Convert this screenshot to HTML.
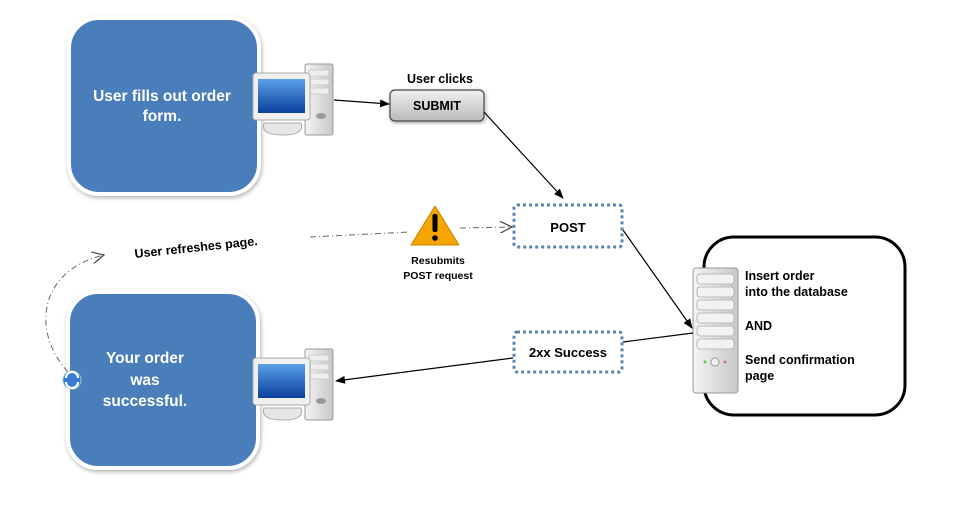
<!DOCTYPE html>
<html><head><style>
body{margin:0;width:980px;height:505px;background:#fff;overflow:hidden;font-family:"Liberation Sans",sans-serif}
</style></head><body>
<svg width="980" height="505" xmlns="http://www.w3.org/2000/svg" font-family="Liberation Sans, sans-serif" font-weight="bold">
<defs>
<marker id="a" markerWidth="10" markerHeight="8" refX="9" refY="4" orient="auto" markerUnits="userSpaceOnUse"><path d="M0,0 L10,4 L0,8 z" fill="#000"/></marker>
<marker id="o" markerWidth="14" markerHeight="12" refX="12" refY="6" orient="auto" markerUnits="userSpaceOnUse"><path d="M0,0 L12,6 L0,12" fill="none" stroke="#444" stroke-width="1.2"/></marker>
<linearGradient id="scr" x1="0" y1="0" x2="0" y2="1"><stop offset="0" stop-color="#5aa0e8"/><stop offset="1" stop-color="#0a3f9c"/></linearGradient>
<linearGradient id="tw" x1="0" y1="0" x2="1" y2="0"><stop offset="0" stop-color="#f4f4f4"/><stop offset="1" stop-color="#c8c8c8"/></linearGradient>
<linearGradient id="btn" x1="0" y1="0" x2="0" y2="1"><stop offset="0" stop-color="#f2f2f2"/><stop offset="1" stop-color="#b8b8b8"/></linearGradient>
<filter id="sh"><feDropShadow dx="1" dy="2" stdDeviation="2" flood-opacity="0.3"/></filter>
<g id="pc">
<rect x="50" y="-9" width="28" height="71" rx="2" fill="url(#tw)" stroke="#999"/>
<rect x="54" y="-3" width="20" height="6" fill="#eee" stroke="#bbb" stroke-width=".6"/>
<rect x="54" y="6" width="20" height="6" fill="#eee" stroke="#bbb" stroke-width=".6"/>
<rect x="54" y="15" width="20" height="6" fill="#eee" stroke="#bbb" stroke-width=".6"/>
<ellipse cx="66" cy="43" rx="5" ry="3" fill="#999"/>
<path d="M9,50 Q5,62 28,62 Q50,62 46,50 z" fill="#e6e6e6" stroke="#aaa"/>
<rect x="-2" y="0" width="57" height="47" rx="3" fill="#f0f0f0" stroke="#aaa"/>
<rect x="3" y="6" width="47" height="34" fill="url(#scr)"/>
</g>
</defs>

<rect x="69" y="18" width="190" height="176" rx="30" fill="#4a7ebb" stroke="#fff" stroke-width="4" filter="url(#sh)"/>
<text fill="#fff" font-size="15.5" text-anchor="middle"><tspan x="162" y="101">User fills out order</tspan><tspan x="162" y="121">form.</tspan></text>
<use href="#pc" x="255" y="73"/>

<rect x="68" y="292" width="190" height="176" rx="30" fill="#4a7ebb" stroke="#fff" stroke-width="4" filter="url(#sh)"/>
<text fill="#fff" font-size="15.5" text-anchor="middle"><tspan x="145" y="363">Your order</tspan><tspan x="145" y="385">was</tspan><tspan x="145" y="406">successful.</tspan></text>
<use href="#pc" x="255" y="358"/>

<line x1="334" y1="100" x2="389" y2="104" stroke="#000" stroke-width="1.3" marker-end="url(#a)"/>
<text x="440" y="83" font-size="12.5" text-anchor="middle">User clicks</text>
<rect x="390" y="90" width="94" height="31" rx="5" fill="url(#btn)" stroke="#444" stroke-width="1.2" filter="url(#sh)"/>
<text x="437" y="110" font-size="12.5" text-anchor="middle">SUBMIT</text>
<line x1="484" y1="112" x2="563" y2="198" stroke="#000" stroke-width="1.2" marker-end="url(#a)"/>

<rect x="514" y="205" width="108" height="42" rx="3" fill="#fff" stroke="#5b86b0" stroke-width="3" stroke-dasharray="3,3"/>
<text x="568" y="232" font-size="13" text-anchor="middle">POST</text>

<path d="M310,237 L410,232" stroke="#666" stroke-width="1" stroke-dasharray="6,3,1,3" fill="none"/>
<path d="M460,228 L512,227" stroke="#666" stroke-width="1" stroke-dasharray="6,3,1,3" fill="none" marker-end="url(#o)"/>
<path d="M435,206 L459,245 L411,245 z" fill="#f5a500" stroke="#d08000" stroke-linejoin="round"/>
<rect x="432.5" y="214" width="5" height="18" rx="2" fill="#000"/>
<circle cx="435" cy="238" r="2.8" fill="#000"/>
<text font-size="10.5" text-anchor="middle"><tspan x="438" y="264">Resubmits</tspan><tspan x="438" y="279">POST request</tspan></text>

<text x="135" y="258" font-size="12.5" transform="rotate(-6 135 258)">User refreshes page.</text>
<path d="M68,372 C30,330 40,270 104,255" stroke="#666" stroke-width="1" stroke-dasharray="6,3,1,3" fill="none" marker-end="url(#o)"/>
<circle cx="72" cy="380" r="9" fill="#3a7ad0" stroke="#9cc" stroke-width="1"/>
<path d="M66,378 A6,6 0 0 1 78,378 M78,382 A6,6 0 0 1 66,382" stroke="#fff" stroke-width="2" fill="none"/>

<line x1="623" y1="230" x2="692" y2="328" stroke="#000" stroke-width="1.2" marker-end="url(#a)"/>

<rect x="704" y="237" width="201" height="178" rx="30" fill="#fff" stroke="#000" stroke-width="3"/>
<rect x="693" y="268" width="45" height="125" rx="3" fill="url(#tw)" stroke="#999"/>
<g fill="#f2f2f2" stroke="#aaa" stroke-width=".8">
<rect x="697" y="274" width="37" height="10" rx="3"/><rect x="697" y="287" width="37" height="10" rx="3"/><rect x="697" y="300" width="37" height="10" rx="3"/><rect x="697" y="313" width="37" height="10" rx="3"/><rect x="697" y="326" width="37" height="10" rx="3"/><rect x="697" y="339" width="37" height="10" rx="3"/>
</g>
<circle cx="715" cy="362" r="4" fill="#eee" stroke="#999"/><circle cx="705" cy="362" r="1.5" fill="#5c5"/><circle cx="725" cy="362" r="1.5" fill="#d77"/>
<text font-size="12.5" fill="#000"><tspan x="745" y="280">Insert order</tspan><tspan x="745" y="296">into the database</tspan><tspan x="745" y="330">AND</tspan><tspan x="745" y="364">Send confirmation</tspan><tspan x="745" y="380">page</tspan></text>

<line x1="693" y1="333" x2="623" y2="342" stroke="#000" stroke-width="1.2"/>
<rect x="514" y="332" width="108" height="40" rx="3" fill="#fff" stroke="#5b86b0" stroke-width="3" stroke-dasharray="3,3"/>
<text x="568" y="357" font-size="13" text-anchor="middle">2xx Success</text>
<line x1="513" y1="358" x2="336" y2="381" stroke="#000" stroke-width="1.2" marker-end="url(#a)"/>
</svg>
</body></html>
